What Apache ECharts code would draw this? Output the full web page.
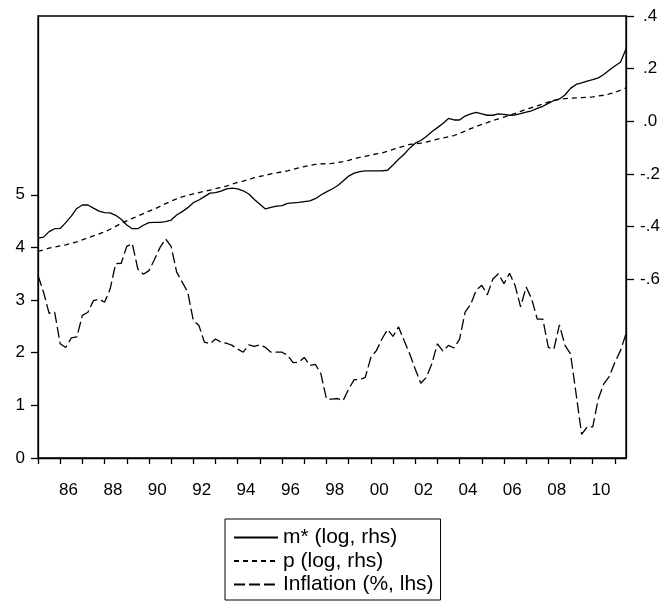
<!DOCTYPE html>
<html>
<head>
<meta charset="utf-8">
<script src="https://cdn.jsdelivr.net/npm/echarts@6/dist/echarts.min.js"></script>
<style>
  html, body { margin: 0; background: #fff; }
  #chart { width: 668px; height: 601px; }
</style>
</head>
<body>
<div id="chart"></div>
<script>
// quarterly data, first observation 1985Q1
const startYear = 1985;

const mStar = [
  -0.444, -0.440, -0.419, -0.408, -0.407, -0.385, -0.360, -0.331, -0.318, -0.318,
  -0.330, -0.341, -0.347, -0.348, -0.357, -0.372, -0.394, -0.408, -0.408, -0.395,
  -0.385, -0.384, -0.384, -0.381, -0.375, -0.356, -0.343, -0.328, -0.309, -0.299,
  -0.286, -0.273, -0.271, -0.265, -0.257, -0.254, -0.257, -0.264, -0.276, -0.297,
  -0.315, -0.333, -0.327, -0.322, -0.320, -0.312, -0.310, -0.308, -0.305, -0.302,
  -0.294, -0.280, -0.268, -0.257, -0.245, -0.227, -0.208, -0.197, -0.191, -0.188,
  -0.188, -0.188, -0.188, -0.186, -0.166, -0.144, -0.125, -0.102, -0.083, -0.073,
  -0.058, -0.040, -0.024, -0.008, 0.011, 0.005, 0.005, 0.020, 0.028, 0.034,
  0.028, 0.023, 0.023, 0.028, 0.026, 0.023, 0.024, 0.029, 0.035, 0.040,
  0.049, 0.057, 0.068, 0.079, 0.085, 0.100, 0.125, 0.140, 0.146, 0.153,
  0.158, 0.165, 0.178, 0.195, 0.210, 0.224, 0.275
];

const pLog = [
  -0.494, -0.489, -0.482, -0.478, -0.473, -0.469, -0.464, -0.458, -0.450, -0.443,
  -0.435, -0.428, -0.420, -0.410, -0.399, -0.388, -0.378, -0.369, -0.360, -0.351,
  -0.341, -0.333, -0.323, -0.313, -0.303, -0.295, -0.287, -0.281, -0.276, -0.271,
  -0.266, -0.261, -0.256, -0.251, -0.246, -0.239, -0.232, -0.227, -0.221, -0.214,
  -0.209, -0.205, -0.200, -0.196, -0.192, -0.188, -0.183, -0.177, -0.172, -0.167,
  -0.164, -0.162, -0.161, -0.160, -0.157, -0.153, -0.148, -0.142, -0.137, -0.133,
  -0.128, -0.124, -0.120, -0.114, -0.107, -0.100, -0.094, -0.088, -0.086, -0.083,
  -0.079, -0.073, -0.068, -0.063, -0.059, -0.054, -0.046, -0.037, -0.028, -0.020,
  -0.012, -0.005, 0.003, 0.009, 0.016, 0.023, 0.030, 0.038, 0.045, 0.052,
  0.059, 0.066, 0.073, 0.080, 0.083, 0.086, 0.088, 0.089, 0.090, 0.091,
  0.093, 0.096, 0.099, 0.104, 0.110, 0.118, 0.127
];

const inflation = [
  3.47, 3.15, 2.75, 2.77, 2.17, 2.10, 2.28, 2.30, 2.71, 2.77,
  2.99, 3.02, 2.96, 3.21, 3.69, 3.70, 4.02, 4.07, 3.59, 3.49,
  3.56, 3.77, 4.00, 4.16, 4.02, 3.53, 3.34, 3.15, 2.61, 2.52,
  2.20, 2.17, 2.26, 2.20, 2.18, 2.14, 2.07, 2.01, 2.15, 2.12,
  2.15, 2.10, 2.01, 2.01, 2.01, 1.95, 1.81, 1.82, 1.91, 1.76,
  1.78, 1.60, 1.12, 1.12, 1.13, 1.09, 1.31, 1.49, 1.49, 1.53,
  1.91, 2.04, 2.26, 2.44, 2.31, 2.49, 2.23, 1.98, 1.69, 1.42,
  1.53, 1.79, 2.17, 2.03, 2.14, 2.09, 2.26, 2.77, 2.92, 3.19,
  3.28, 3.10, 3.40, 3.50, 3.31, 3.51, 3.28, 2.87, 3.25, 3.02,
  2.64, 2.64, 2.10, 2.07, 2.53, 2.14, 1.98, 1.22, 0.45, 0.59,
  0.59, 1.12, 1.41, 1.55, 1.82, 2.04, 2.36
];

const leftTicks = [0, 1, 2, 3, 4, 5];
const rightTicks = [-0.6, -0.4, -0.2, 0, 0.2, 0.4];
const yearTicks = [];
for (let y = 1985; y <= 2011; y++) yearTicks.push(y);
const yearLabels = [1986, 1988, 1990, 1992, 1994, 1996, 1998, 2000, 2002, 2004, 2006, 2008, 2010];

const dates = mStar.map((_, i) => startYear + i / 4);
const toPairs = (arr) => arr.map((v, i) => [dates[i], v]);

const font = 'Arial, "Liberation Sans", sans-serif';
const axisText = { color: '#000', fontSize: 17, fontFamily: font };
const blackLine = { color: '#000', width: 1.3 };

const chart = echarts.init(document.getElementById('chart'));
chart.setOption({
  animation: false,
  color: ['#000', '#000', '#000'],
  grid: {
    left: 38, right: 42, top: 16, bottom: 143,
    show: true, borderColor: '#000', borderWidth: 1.3
  },
  xAxis: {
    type: 'value',
    min: 1985, max: 2011.5,
    axisLine: { show: true, onZero: false, lineStyle: blackLine },
    axisTick: { show: true, length: 6, customValues: yearTicks, lineStyle: blackLine },
    axisLabel: {
      ...axisText,
      margin: 24,
      customValues: yearLabels.map(y => y + 0.375),
      formatter: v => String(Math.floor(v)).slice(2)
    },
    splitLine: { show: false }
  },
  yAxis: [
    {
      type: 'value',
      position: 'left',
      min: 0, max: 8.397,
      axisLine: { show: true, lineStyle: blackLine },
      axisTick: { show: true, length: 7, customValues: leftTicks, lineStyle: blackLine },
      axisLabel: { ...axisText, margin: 13, customValues: leftTicks, formatter: v => String(v) },
      splitLine: { show: false }
    },
    {
      type: 'value',
      position: 'right',
      min: -1.279, max: 0.4,
      axisLine: { show: true, lineStyle: blackLine },
      axisTick: { show: true, length: 8, customValues: rightTicks, lineStyle: blackLine },
      axisLabel: {
        ...axisText,
        margin: 24,
        align: 'center',
        customValues: rightTicks,
        formatter: v => v.toFixed(1).replace(/^(-?)0\./, '$1.')
      },
      splitLine: { show: false }
    }
  ],
  legend: {
    orient: 'vertical',
    left: 225, top: 519,
    height: 200,
    padding: [8, 7, 5, 8],
    borderColor: '#000', borderWidth: 1,
    itemWidth: 44, itemHeight: 14, itemGap: 2.5,
    itemStyle: { opacity: 0 },
    textStyle: { color: '#000', fontSize: 21, fontFamily: font, lineHeight: 21 },
    data: ['m* (log, rhs)', 'p (log, rhs)', 'Inflation (%, lhs)']
  },
  series: [
    {
      name: 'm* (log, rhs)', type: 'line', yAxisIndex: 1,
      symbol: 'none', data: toPairs(mStar),
      lineStyle: { color: '#000', width: 1.3, type: 'solid' }
    },
    {
      name: 'p (log, rhs)', type: 'line', yAxisIndex: 1,
      symbol: 'none', data: toPairs(pLog),
      lineStyle: { color: '#000', width: 1.3, type: [5, 4] }
    },
    {
      name: 'Inflation (%, lhs)', type: 'line', yAxisIndex: 0,
      symbol: 'none', data: toPairs(inflation),
      lineStyle: { color: '#000', width: 1.3, type: [11, 4] }
    }
  ]
});
</script>
</body>
</html>
